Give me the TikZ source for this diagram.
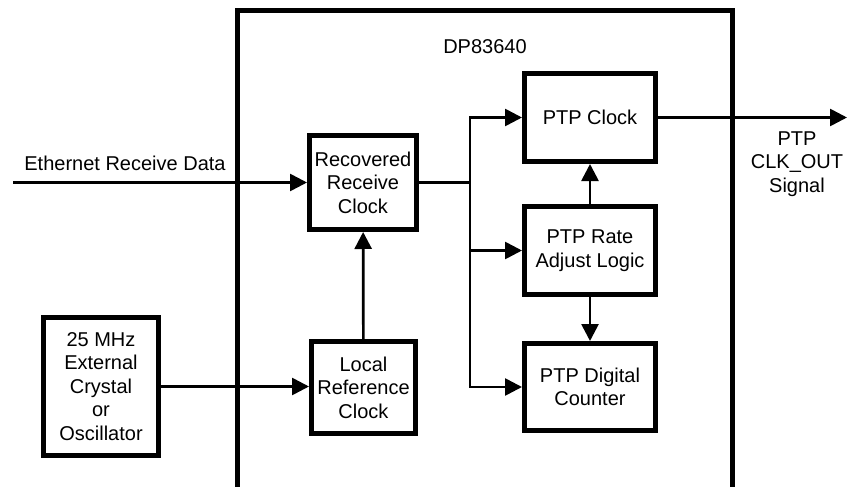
\documentclass[tikz,border=0pt]{standalone}
\usepackage{fontspec}
\setmainfont{Liberation Sans}
\usetikzlibrary{arrows.meta}

\begin{document}
\begin{tikzpicture}[x=1pt,y=-1pt,
  blk/.style={draw,line width=5pt,inner sep=2pt,align=center,font=\fontsize{20}{23.6}\selectfont},
  lbl/.style={align=center,inner sep=0pt,font=\fontsize{20}{23.6}\selectfont},
  sig/.style={line width=2.7pt,-{Triangle[length=17pt,width=17pt]}},
  wire/.style={line width=2.7pt}]
\definecolor{background}{RGB}{255,255,255}
\useasboundingbox [fill=background] (0,0) rectangle (847,487);
\draw [line width=5pt] (237,492) -- (237,11) -- (732,11) -- (732,492);
\node [lbl] (chip) at (485,47) {DP83640};
\node [blk,minimum width=107,minimum height=94] (rrc) at (363,182.5) {Recovered\\Receive\\Clock};
\node [blk,minimum width=104,minimum height=92] (lrc) at (363.5,387.5) {Local\\Reference\\Clock};
\node [blk,minimum width=115,minimum height=138] (osc) at (101,386.5) {25 MHz\\External\\Crystal\\or\\Oscillator};
\node [blk,minimum width=131,minimum height=88] (ptpclk) at (590,117.5) {PTP Clock};
\node [blk,minimum width=131,minimum height=88] (rate) at (590,250.5) {PTP Rate\\Adjust Logic};
\node [blk,minimum width=131,minimum height=87] (cnt) at (590,387) {PTP Digital\\Counter};
\coordinate (rxin) at (13,182.5);
\coordinate (split) at (470,182.5);
\coordinate (clkout) at (847,117.5);
\node [lbl] (rxlbl) at (125,163) {Ethernet Receive Data};
\node [lbl] (outlbl) at (797,164) {PTP\\CLK\_OUT\\Signal};
\draw [sig] (rxin) -- (rrc);
\draw [sig] (osc) -- (lrc.west |- osc.east);
\draw [sig] (lrc) -- (rrc);
\draw [wire] (rrc) -- (split);
\draw [sig] (split) |- (ptpclk);
\draw [sig] (split) |- (rate);
\draw [sig] (split) |- (cnt);
\draw [sig] (rate) -- (ptpclk);
\draw [sig] (rate) -- (cnt);
\draw [sig] (ptpclk) -- (clkout);
\end{tikzpicture}
\end{document}
